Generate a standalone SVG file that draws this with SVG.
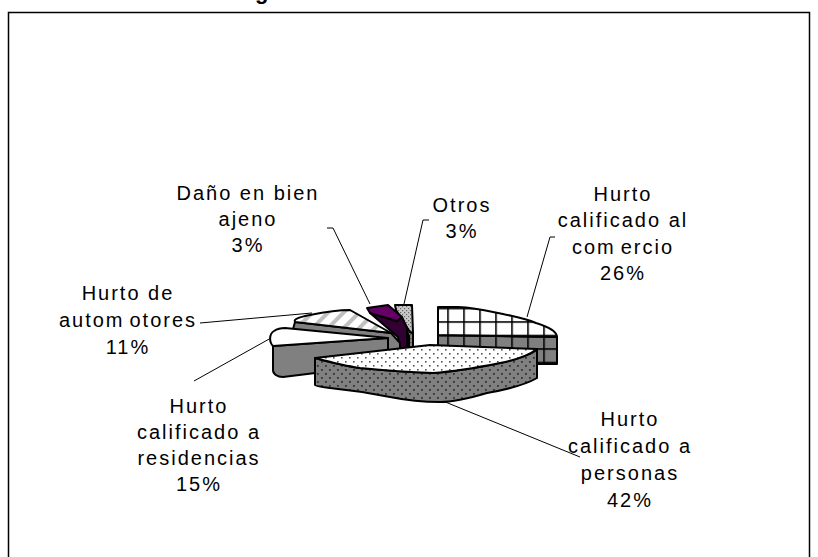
<svg xmlns="http://www.w3.org/2000/svg" width="818" height="557" viewBox="0 0 818 557">
<style>
  text { font-family: "Liberation Sans", Arial, sans-serif; font-size: 20px; letter-spacing: 2px; fill: #000; text-anchor: middle; }
  .title { font-weight: bold; font-size: 22px; letter-spacing: 0; text-anchor: start; }
  .edge { stroke: #000; stroke-width: 2; stroke-linejoin: round; }
  .lead { fill: none; stroke: #000; stroke-width: 1; }
</style>
<defs>
  <pattern id="gridW" patternUnits="userSpaceOnUse" x="447.2" y="307.7" width="16" height="13.5">
    <rect width="16" height="13.5" fill="#fff"/>
    <rect width="1.6" height="13.5" fill="#000"/>
    <rect width="16" height="1.6" fill="#000"/>
  </pattern>
  <pattern id="gridG" patternUnits="userSpaceOnUse" x="447.2" y="307.7" width="16" height="13.5">
    <rect width="16" height="13.5" fill="#808080"/>
    <rect width="1.6" height="13.5" fill="#000"/>
    <rect width="16" height="1.6" fill="#000"/>
  </pattern>
  <pattern id="dotW" patternUnits="userSpaceOnUse" width="8" height="8">
    <rect width="8" height="8" fill="#fff"/>
    <rect x="1" y="1" width="1.6" height="1.6" fill="#555"/>
    <rect x="5" y="5" width="1.6" height="1.6" fill="#555"/>
  </pattern>
  <pattern id="dotG" patternUnits="userSpaceOnUse" width="8" height="8">
    <rect width="8" height="8" fill="#808080"/>
    <rect x="1" y="1" width="1.8" height="1.8" fill="#333"/>
    <rect x="5" y="5" width="1.8" height="1.8" fill="#333"/>
  </pattern>
  <pattern id="stipL" patternUnits="userSpaceOnUse" width="4" height="4">
    <rect width="4" height="4" fill="#c8c8c8"/>
    <rect x="0" y="0" width="1.2" height="1.2" fill="#666"/>
    <rect x="2" y="2" width="1.2" height="1.2" fill="#666"/>
  </pattern>
  <pattern id="stipD" patternUnits="userSpaceOnUse" width="4" height="4">
    <rect width="4" height="4" fill="#808080"/>
    <rect x="0" y="0" width="1.2" height="1.2" fill="#444"/>
    <rect x="2" y="2" width="1.2" height="1.2" fill="#444"/>
  </pattern>
  <pattern id="stripe" patternUnits="userSpaceOnUse" width="11" height="11" patternTransform="rotate(45)">
    <rect width="11" height="11" fill="#fff"/>
    <rect width="4" height="11" fill="#c0c0c0"/>
  </pattern>
</defs>

<rect x="8.5" y="12.5" width="801" height="560" fill="#fff" stroke="#000" stroke-width="1.5"/>
<text class="title" x="255" y="-1.5">g</text>

<g id="connectors">
  <polyline class="lead" points="327,228 333,228 370,304"/>
  <polyline class="lead" points="429,220 423,220 404,304"/>
  <polyline class="lead" points="555,237 550,237 527,317"/>
  <polyline class="lead" points="200,323 312,313"/>
  <polyline class="lead" points="194,381 271,338"/>
  <polyline class="lead" points="438,399 580,457"/>
</g>

<g id="slice-comercio">
  <path class="edge" fill="url(#gridG)" d="M438,335 L557,337 L557,364 L438,364 Z"/>
  <path class="edge" fill="url(#gridW)" d="M438,307 L458,307 C478,308 488,311 503,314 C516,317 524,318 536,323 C549,327 557,331 557,337 L438,335 Z"/>
</g>

<g id="slice-otros">
  <path class="edge" fill="url(#stipD)" d="M396,310 L410,332 L413,333 L413,358 L409,358 L409,336 Z"/>
  <path class="edge" fill="url(#stipL)" d="M395,305 L412,305 L413,333 L410,332 L396,310 Z"/>
</g>

<g id="slice-dano">
  <path class="edge" fill="#330033" d="M370,313 L397,321 L402,317 L407,328 L407,348 L400,350 L398,337 Z"/>
  <path class="edge" fill="#660066" d="M367,308 L388,305 L402,317 L397,321 L370,313 Z"/>
</g>

<g id="slice-automotores">
  <path class="edge" fill="#808080" d="M295,322 L391,333 L400,343 L400,354 L290,340 Z"/>
  <path class="edge" fill="url(#stripe)" d="M295,322 C293,319 300,317 310,315 C325,312 338,310 350,310 L391,333 Z"/>
</g>

<g id="slice-residencias">
  <path class="edge" fill="#808080" d="M273,346 L388,338 L388,364 L283,377 C277,377 273,374 273,370 Z"/>
  <path class="edge" fill="#fff" d="M285,328 L388,338 L273,346 C269,342 269,334 274,331 C277,329 281,328 285,328 Z"/>
</g>

<g id="slice-personas">
  <path class="edge" fill="url(#dotG)" d="M315,358 C330,362 345,366 360,368 C380,370 400,372 433,373 C460,371 480,367 500,363 C515,360 528,356 537,350 L537,378 C525,385 510,389 487,393 C470,398 455,402 440,402 C420,402 405,400 390,397 C370,393 350,390 330,388 C322,387 315,386 315,385 Z"/>
  <path class="edge" fill="url(#dotW)" d="M315,358 L430,345 L537,349 C528,356 515,360 500,363 C480,367 460,371 433,373 C400,372 380,370 360,368 C345,366 330,362 315,358 Z"/>
</g>

<g id="label-dano">
  <text x="248" y="200">Daño en bien</text>
  <text x="248" y="226">ajeno</text>
  <text x="248" y="252">3%</text>
</g>
<g id="label-otros">
  <text x="462" y="212">Otros</text>
  <text x="462" y="238">3%</text>
</g>
<g id="label-comercio">
  <text x="623" y="201">Hurto</text>
  <text x="623" y="227">calificado al</text>
  <text x="623" y="254">com<tspan dx="5">ercio</tspan></text>
  <text x="623" y="280">26%</text>
</g>
<g id="label-automotores">
  <text x="128" y="300">Hurto de</text>
  <text x="128" y="327">autom<tspan dx="5">otores</tspan></text>
  <text x="128" y="354">11%</text>
</g>
<g id="label-residencias">
  <text x="199" y="413">Hurto</text>
  <text x="199" y="439">calificado a</text>
  <text x="199" y="465">residencias</text>
  <text x="199" y="491">15%</text>
</g>
<g id="label-personas">
  <text x="630" y="426">Hurto</text>
  <text x="630" y="453">calificado a</text>
  <text x="630" y="480">personas</text>
  <text x="630" y="507">42%</text>
</g>
</svg>
